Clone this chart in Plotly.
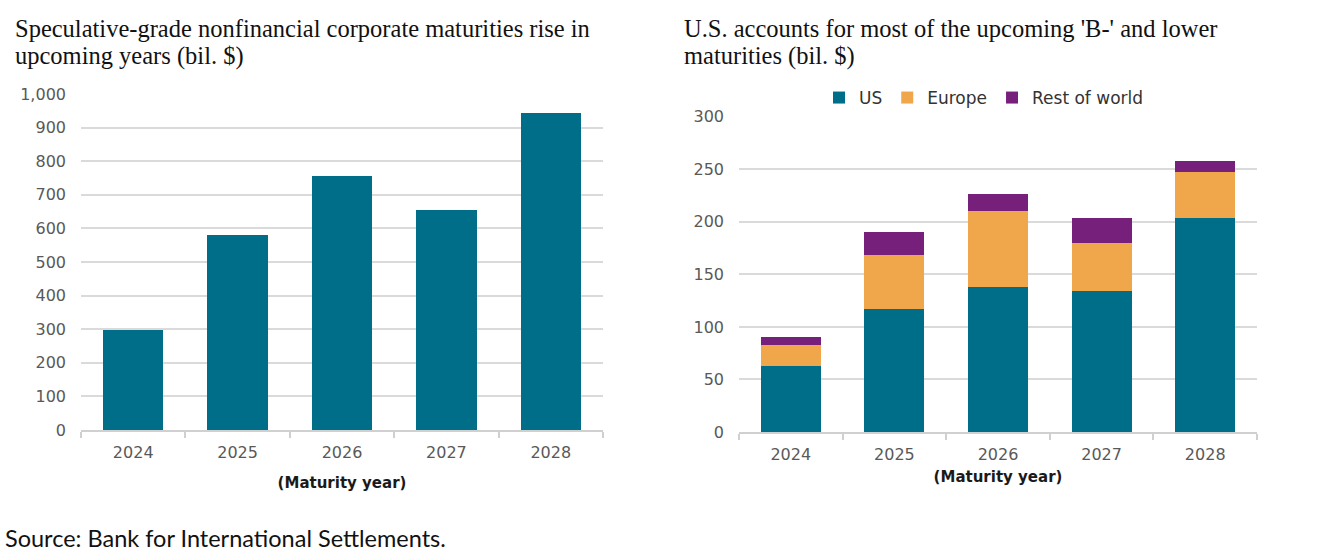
import plotly.graph_objects as go

years = ["2024", "2025", "2026", "2027", "2028"]
total_maturities = [297, 579, 757, 655, 943]
us = [63, 117, 138, 134, 204]
europe = [20, 51, 72, 46, 43]
rest_of_world = [7, 22, 16, 24, 11]

left_ticks = [0, 100, 200, 300, 400, 500, 600, 700, 800, 900, 1000]
left_ticktext = ["0", "100", "200", "300", "400", "500", "600", "700", "800", "900", "1,000"]
right_ticks = [0, 50, 100, 150, 200, 250, 300]

left_title = ["Speculative-grade nonfinancial corporate maturities rise in", "upcoming years (bil. $)"]
right_title = ["U.S. accounts for most of the upcoming 'B-' and lower", "maturities (bil. $)"]
source = "Source: Bank for International Settlements."

TEAL = "#006D89"
ORANGE = "#F0A64A"
PURPLE = "#76207C"
GRID = "#DADADA"
SANS = "DejaVu Sans, Verdana, sans-serif"
TICKFONT = dict(family=SANS, size=16, color="#595959")
W, H = 1318, 560

fig = go.Figure()

fig.add_trace(go.Bar(x=years, y=total_maturities, marker=dict(color=TEAL, line=dict(width=0)),
                     showlegend=False, xaxis="x", yaxis="y"))
fig.add_trace(go.Bar(x=years, y=us, name="US", marker=dict(color=TEAL, line=dict(width=0)),
                     xaxis="x2", yaxis="y2"))
fig.add_trace(go.Bar(x=years, y=europe, name="Europe", marker=dict(color=ORANGE, line=dict(width=0)),
                     xaxis="x2", yaxis="y2"))
fig.add_trace(go.Bar(x=years, y=rest_of_world, name="Rest of world", marker=dict(color=PURPLE, line=dict(width=0)),
                     xaxis="x2", yaxis="y2"))

def xax(domain, anchor, standoff):
    return dict(domain=domain, anchor=anchor, type="category", showline=True, linecolor="#D0D0D0",
                linewidth=1.5, ticks="outside", tickson="boundaries", ticklen=6, tickcolor="#D0D0D0",
                tickwidth=1.5, tickfont=TICKFONT, ticklabelstandoff=7, showgrid=False, fixedrange=True,
                automargin=False,
                title=dict(text="<b>(Maturity year)</b>", standoff=standoff,
                           font=dict(family=SANS, size=15, color="#1A1A1A")))

def yax(domain, anchor, rng, tickvals, ticktext):
    return dict(domain=domain, anchor=anchor, range=rng, tickvals=tickvals, ticktext=ticktext,
                showgrid=True, gridcolor=GRID, gridwidth=1.5, zeroline=False, showline=False,
                tickfont=TICKFONT, ticks="", ticklabelstandoff=14, fixedrange=True, automargin=False)

fig.update_layout(
    width=W, height=H,
    margin=dict(l=0, r=0, t=0, b=0, autoexpand=False),
    paper_bgcolor="white", plot_bgcolor="white",
    barmode="stack", bargap=0.42,
    xaxis=xax([81 / W, 603 / W], "y", 17),
    yaxis=yax([1 - 430 / H, 1 - 94 / H], "x", [0, 1000], left_ticks, left_ticktext),
    xaxis2=xax([739 / W, 1257 / W], "y2", 9),
    yaxis2=yax([1 - 432 / H, 1 - 116.7 / H], "x2", [0, 300], right_ticks, [str(v) for v in right_ticks]),
    legend=dict(orientation="h", x=984 / W, xanchor="center", y=1 - 98 / H, yanchor="middle",
                font=dict(family=SANS, size=17, color="#333333"),
                itemwidth=30, traceorder="normal", bgcolor="rgba(0,0,0,0)"),
    showlegend=True,
)

title_font = dict(family="Liberation Serif, Times New Roman, serif", size=24.5, color="#111111")
for xs, lines in ((13, left_title), (682, right_title)):
    for yc, line in zip((28, 56), lines):
        fig.add_annotation(text=line, xref="paper", yref="paper", x=xs / W, y=1 - yc / H,
                           xanchor="left", yanchor="middle", align="left", showarrow=False,
                           font=title_font)
fig.add_annotation(text=source,
                   xref="paper", yref="paper", x=3 / W, y=1 - 538 / H, xanchor="left", yanchor="middle",
                   align="left", showarrow=False,
                   font=dict(family="Lato, Carlito, sans-serif", size=23.5, color="#111111"))

fig.write_html("out.html", config={"displayModeBar": False},
               post_script="document.body.style.margin='0';")
